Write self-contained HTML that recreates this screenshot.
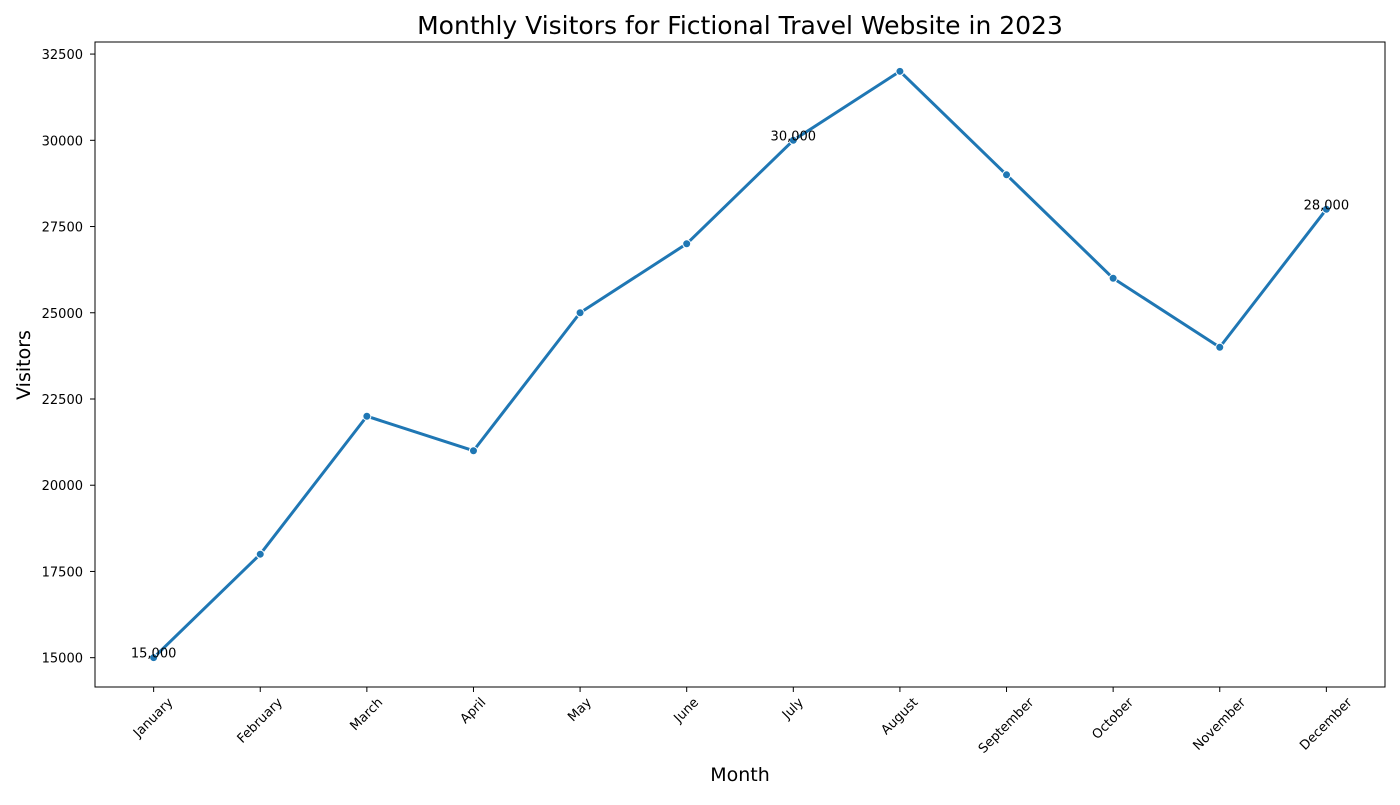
<!DOCTYPE html>
<html><head><meta charset="utf-8"><style>body{margin:0;background:#fff}svg text{font-family:"DejaVu Sans","Liberation Sans",sans-serif}</style></head>
<body>
<svg id="c" width="1400" height="800"></svg>
<script>
const months=["January","February","March","April","May","June","July","August","September","October","November","December"];
const visitors=[15000,18000,22000,21000,25000,27000,30000,32000,29000,26000,24000,28000];
const yTicks=[15000,17500,20000,22500,25000,27500,30000,32500];
const annotated=[0,6,11];
const L=95,R=1385,T=42,B=687;
const yMin=14150,yMax=32850;
const xs=i=>L+(i+0.55)/(months.length-1+1.1)*(R-L);
const ys=v=>B-(v-yMin)/(yMax-yMin)*(B-T);
const svg=document.getElementById('c');const NS='http://www.w3.org/2000/svg';
function mk(t,a,p){const e=document.createElementNS(NS,t);for(const k in a)e.setAttribute(k,a[k]);(p||svg).appendChild(e);return e;}
let e;
e=mk('text',{x:740,y:34,'font-size':25,'text-anchor':'middle'});e.textContent='Monthly Visitors for Fictional Travel Website in 2023';


e=mk('text',{x:740,y:781,'font-size':19,'text-anchor':'middle'});e.textContent='Month';


e=mk('text',{x:30,y:365,'font-size':19,'text-anchor':'middle',transform:'rotate(-90 30 365)'});e.textContent='Visitors';


yTicks.forEach(v=>{const y=ys(v);
mk('line',{x1:L-5,x2:L,y1:y,y2:y,stroke:'#000'});
e=mk('text',{x:L-12,y:y+5,'font-size':13,'text-anchor':'end'});e.textContent=v;

});
months.forEach((m,i)=>{const x=xs(i);
mk('line',{x1:x,x2:x,y1:B,y2:B+5,stroke:'#000'});
e=mk('text',{x:x,y:0,'font-size':13,'text-anchor':'middle','dominant-baseline':'central'});e.textContent=m;


const w=e.getComputedTextLength();const cy=B+9+(w+13)/2/Math.SQRT2;
e.setAttribute('y',cy);e.setAttribute('transform',`rotate(-45 ${x} ${cy})`);});
e=mk('polyline',{points:visitors.map((v,i)=>xs(i)+','+ys(v)).join(' '),fill:'none',stroke:'#1f77b4','stroke-width':3,'stroke-linejoin':'round'});


visitors.forEach((v,i)=>{e=mk('circle',{cx:xs(i),cy:ys(v),r:4,fill:'#1f77b4',stroke:'#fff','stroke-width':1});

});
annotated.forEach(i=>{e=mk('text',{x:xs(i),y:ys(visitors[i])+0,'font-size':13,'text-anchor':'middle'});e.textContent=visitors[i].toLocaleString('en-US');

});
e=mk('rect',{x:L,y:T,width:R-L,height:B-T,fill:'none',stroke:'#000','stroke-width':1});


</script>
</body></html>
